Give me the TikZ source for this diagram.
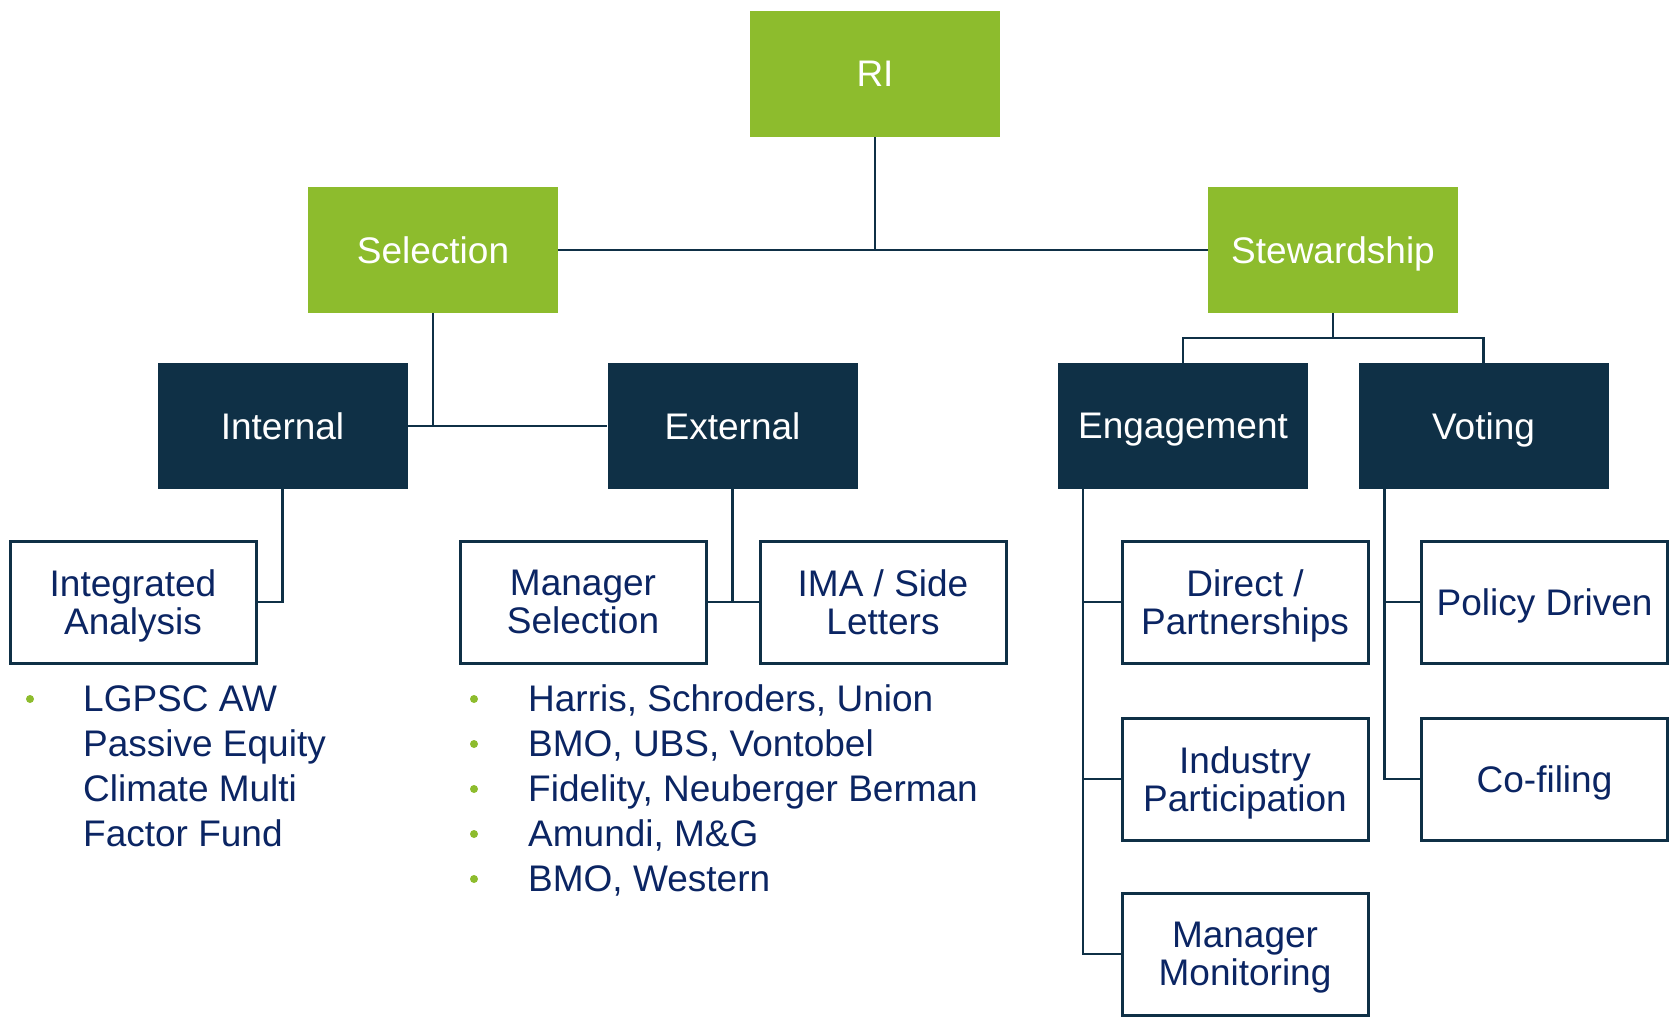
\documentclass[tikz,border=0pt]{standalone}
\usepackage{fontspec}
\setmainfont{Liberation Sans}
\definecolor{rigreen}{HTML}{8DBC2D}
\definecolor{rinavy}{HTML}{0F3046}
\definecolor{ritext}{HTML}{0B2563}
\begin{document}
\begin{tikzpicture}[x=1pt,y=-1pt,
  base/.style={minimum width=250pt,minimum height=126pt,inner sep=0pt,align=center,text depth=0pt,font=\fontsize{37}{38.5}\selectfont},
  greenbox/.style={base,fill=rigreen,text=white},
  navybox/.style={base,fill=rinavy,text=white},
  whitebox/.style={base,minimum width=246pt,minimum height=122pt,draw=rinavy,line width=3pt,fill=white,text=ritext},
  conn/.style={draw=rinavy,line width=2.5pt},
  item/.style={anchor=base west,inner sep=0pt,text=ritext,font=\fontsize{37}{45}\selectfont},
  dot/.style={circle,fill=rigreen,inner sep=0pt,minimum size=8pt}]
\useasboundingbox (0,0) rectangle (1677,1024);
% nodes
\node[greenbox] (RI) at (875,74) {RI};
\node[greenbox] (Sel) at (433,250) {Selection};
\node[greenbox] (Stew) at (1333,250) {Stewardship};
\node[navybox] (Int) at (282.5,426) {Internal};
\node[navybox] (Ext) at (732.5,426) {External};
\node[navybox] (Eng) at (1183,426) {Engagement};
\node[navybox] (Vot) at (1483.5,426) {Voting};
\node[whitebox] (IA) at (133,602) {Integrated\\Analysis};
\node[whitebox] (MS) at (583,602) {Manager\\Selection};
\node[whitebox] (IMA) at (883,602) {IMA / Side\\Letters};
\node[whitebox] (Dir) at (1245,602) {Direct /\\Partnerships};
\node[whitebox] (Ind) at (1245,779) {Industry\\Participation};
\node[whitebox] (Mon) at (1245,954) {Manager\\Monitoring};
\node[whitebox] (Pol) at (1544.5,602) {Policy Driven};
\node[whitebox] (Cof) at (1544.5,779) {Co-filing};
% connectors
\coordinate (rij) at (RI.south |- Sel.east);
\draw[conn] (RI.south) -- (rij);
\draw[conn] (Sel.east) -- (Stew.west);
\coordinate (selj) at (Sel.south |- Int.east);
\draw[conn] (Sel.south) -- (selj);
\draw[conn] (Int.east) -- (Ext.west);
\coordinate (stj) at (1333,338);
\draw[conn] (Stew.south) -- (stj);
\draw[conn] (Eng.north) |- (stj) -| (Vot.north);
\draw[conn] (Int.south) |- (IA.east);
\coordinate (extj) at (Ext.south |- MS.east);
\draw[conn] (Ext.south) -- (extj);
\draw[conn] (MS.east) -- (IMA.west);
\coordinate (ev) at ([xshift=25pt]Eng.south west);
\draw[conn] (ev) |- (Mon.west);
\draw[conn] (ev |- Dir.west) -- (Dir.west);
\draw[conn] (ev |- Ind.west) -- (Ind.west);
\coordinate (vv) at ([xshift=26pt]Vot.south west);
\draw[conn] (vv) |- (Cof.west);
\draw[conn] (vv |- Pol.west) -- (Pol.west);
% left list
\node[dot] (b1) at (30,699) {};
\node[item] (l1) at (83,711) {LGPSC AW};
\node[item] (l2) at (83,756) {Passive Equity};
\node[item] (l3) at (83,801) {Climate Multi};
\node[item] (l4) at (83,846) {Factor Fund};
% middle list
\node[dot] (m1b) at (474,699) {};
\node[dot] (m2b) at (474,744) {};
\node[dot] (m3b) at (474,789) {};
\node[dot] (m4b) at (474,834) {};
\node[dot] (m5b) at (474,879) {};
\node[item] (m1) at (528,711) {Harris, Schroders, Union};
\node[item] (m2) at (528,756) {BMO, UBS, Vontobel};
\node[item] (m3) at (528,801) {Fidelity, Neuberger Berman};
\node[item] (m4) at (528,846) {Amundi, M\&G};
\node[item] (m5) at (528,891) {BMO, Western};
\end{tikzpicture}
\end{document}
